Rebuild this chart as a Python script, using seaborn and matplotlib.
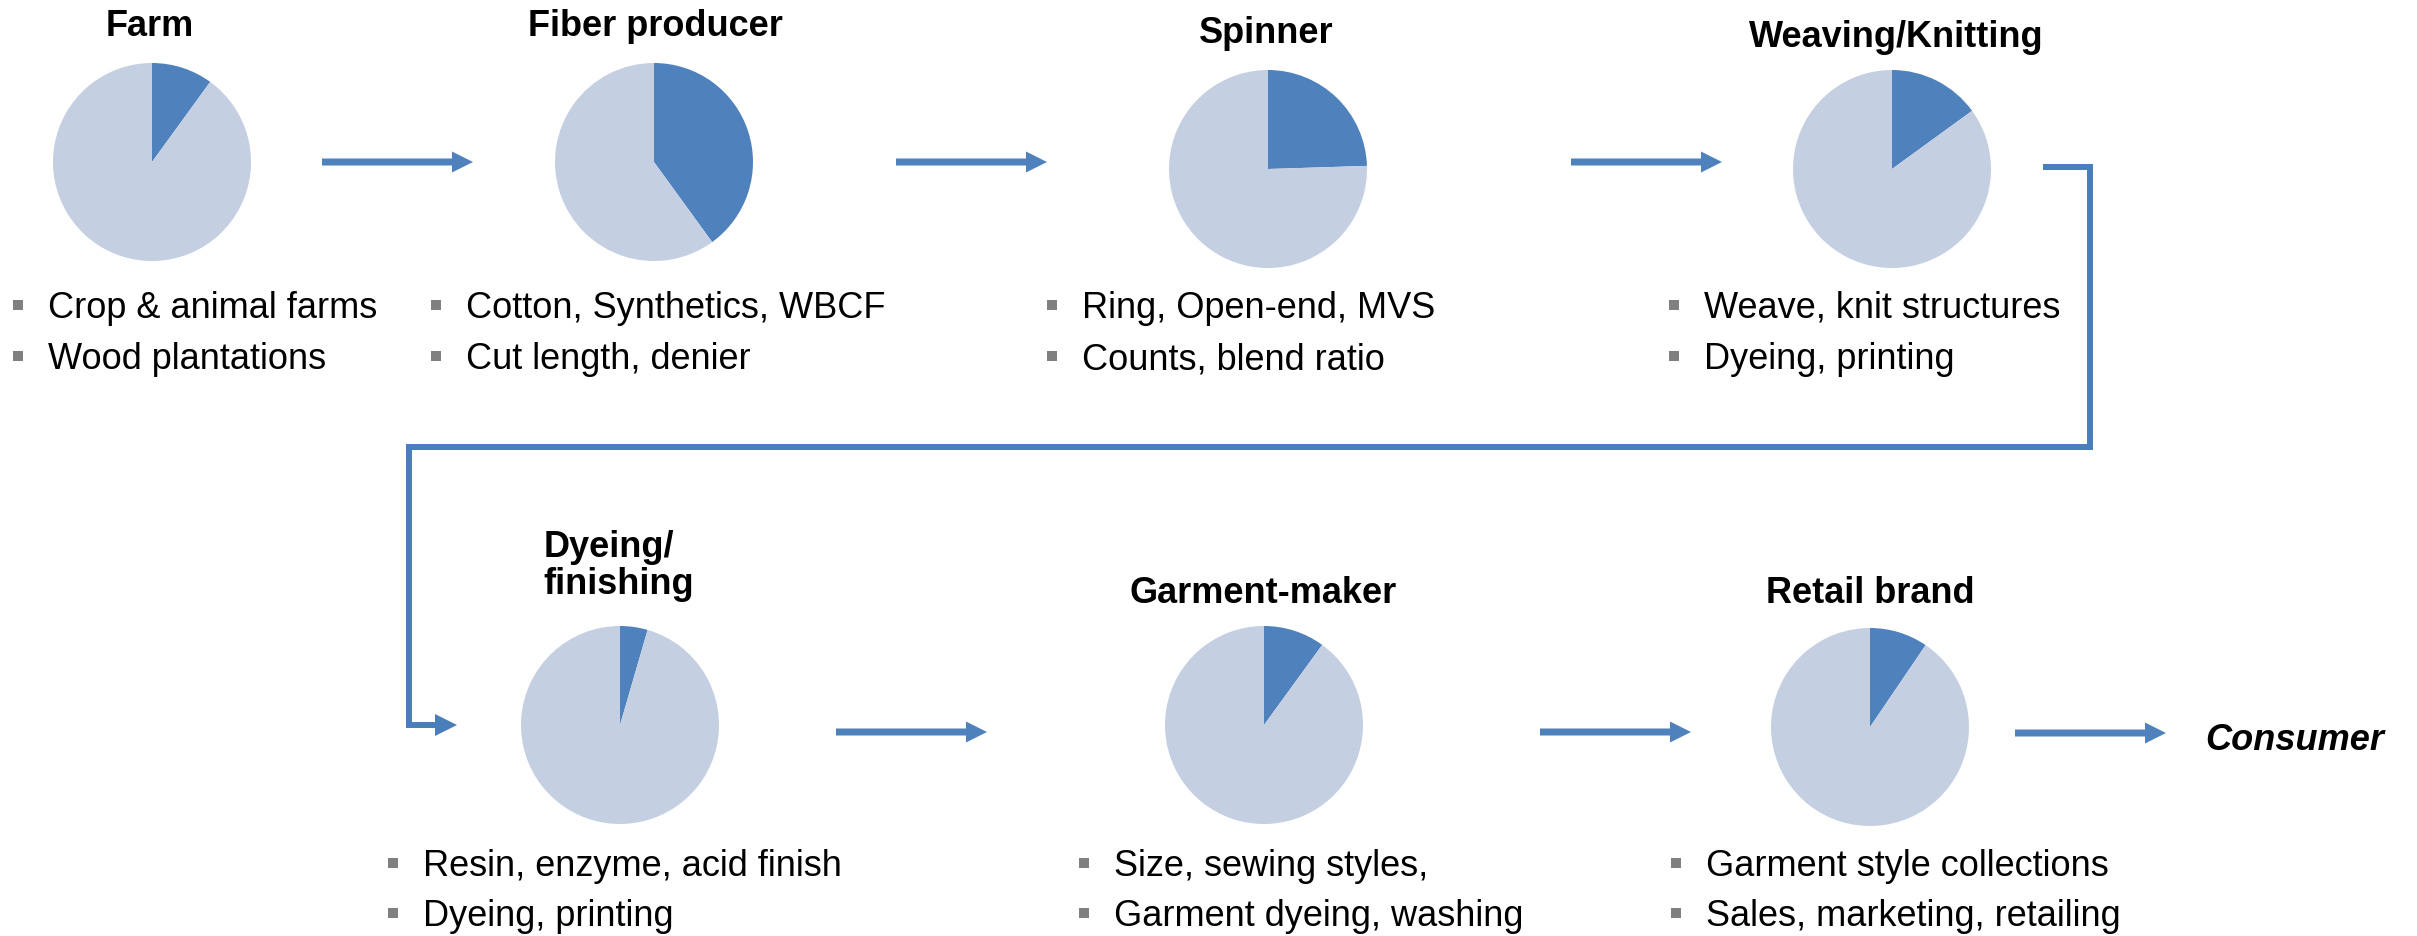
import matplotlib
matplotlib.use("Agg")
import matplotlib.pyplot as plt
import seaborn as sns

# textile value chain: each pie shows the share (dark slice) of one stage
stages = ["Farm", "Fiber producer", "Spinner", "Weaving/Knitting",
          "Dyeing/\nfinishing", "Garment-maker", "Retail brand"]
shares = [10, 40, 24.5, 15, 4.5, 10, 9.5]
bullets = [
    ["Crop & animal farms", "Wood plantations"],
    ["Cotton, Synthetics, WBCF", "Cut length, denier"],
    ["Ring, Open-end, MVS", "Counts, blend ratio"],
    ["Weave, knit structures", "Dyeing, printing"],
    ["Resin, enzyme, acid finish", "Dyeing, printing"],
    ["Size, sewing styles,", "Garment dyeing, washing"],
    ["Garment style collections", "Sales, marketing, retailing"],
]
end_label = "Consumer"

# layout, in pixels from the top-left corner
W, H = 2417, 936
pie_xy = [(152, 162), (654, 162), (1268, 169), (1892, 169),
          (620, 725), (1264, 725), (1870, 727)]
title_xy = [(150, 36), (655, 36), (1266, 43), (1896, 47),
            (619, 594), (1263, 603), (1870, 603)]
text_x = [48, 466, 1082, 1704, 423, 1114, 1706]
rows_y = {"top": (305, 356), "bottom": (863, 913)}
arrows = [(322, 473, 162), (896, 1047, 162), (1571, 1722, 162),
          (836, 987, 732), (1540, 1691, 732), (2015, 2166, 733)]
RADIUS = 99

BLUE = "#4F81BD"
LIGHT = "#C4CFE2"
LINE = "#4A7EBB"
GREY = "#808080"

sns.set_theme(style="white")
plt.rcParams["font.family"] = ["Liberation Sans", "DejaVu Sans"]

fig = plt.figure(figsize=(W / 100, H / 100), dpi=100)
ax = fig.add_axes([0, 0, 1, 1])


def fy(y):
    # flip a top-down pixel y into data y
    return H - y


for i, name in enumerate(stages):
    cx, cy = pie_xy[i]
    ax.pie([shares[i], 100 - shares[i]], colors=[BLUE, LIGHT],
           startangle=90, counterclock=False,
           center=(cx, fy(cy)), radius=RADIUS,
           wedgeprops=dict(linewidth=0))

    tx, ty = title_xy[i]
    ax.text(tx, fy(ty), name, ha="center", va="baseline", fontsize=26,
            fontweight="bold", multialignment="left", linespacing=1.08,
            color="black")

    ys = rows_y["top"] if i < 4 else rows_y["bottom"]
    for line, by in zip(bullets[i], ys):
        ax.scatter(text_x[i] - 30, fy(by), marker="s", s=62, color=GREY,
                   linewidths=0, zorder=3)
        ax.text(text_x[i], fy(by + 13), line, ha="left", va="baseline",
                fontsize=26, color="black")

for x0, x1, y in arrows:
    ax.arrow(x0, fy(y), x1 - x0, 0, width=7, head_width=21, head_length=21,
             length_includes_head=True, color=BLUE, linewidth=0)

# connector from the top row down to the bottom row
ax.plot([2043, 2090, 2090, 409, 409, 436],
        [fy(167), fy(167), fy(447), fy(447), fy(725), fy(725)],
        color=LINE, lw=4.3, solid_joinstyle="miter", solid_capstyle="butt")
ax.arrow(430, fy(725), 27, 0, width=6, head_width=22, head_length=22,
         length_includes_head=True, color=LINE, linewidth=0)

ax.text(2205, fy(750), end_label, ha="left", va="baseline", fontsize=26,
        fontweight="bold", fontstyle="italic", color="black")

ax.set_xlim(0, W)
ax.set_ylim(0, H)
ax.set_aspect("equal")
ax.axis("off")

fig.savefig("out.png", dpi=100, facecolor="white")
